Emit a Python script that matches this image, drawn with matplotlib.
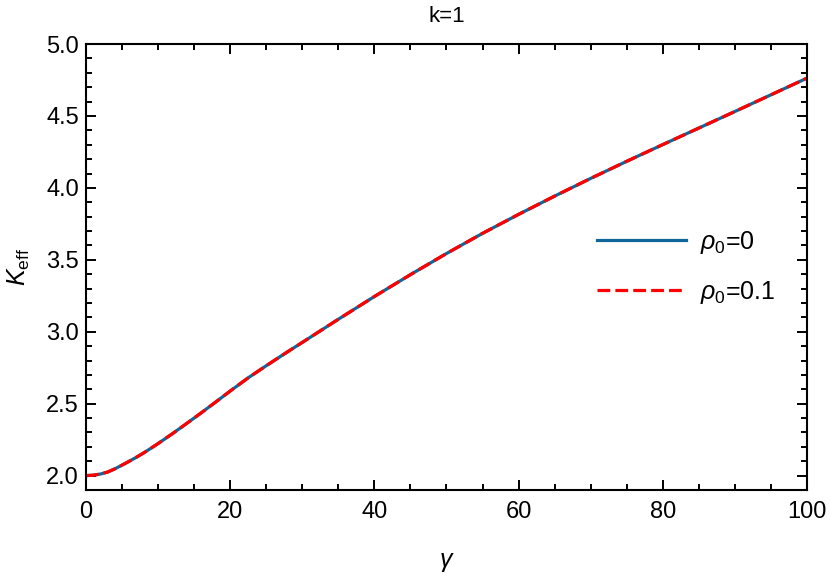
import numpy as np
import matplotlib
matplotlib.use("Agg")
import matplotlib.pyplot as plt
from matplotlib.ticker import MultipleLocator

plt.rcParams['font.family'] = ['Liberation Sans', 'DejaVu Sans']
plt.rcParams['mathtext.fontset'] = 'custom'
plt.rcParams['mathtext.rm'] = 'Liberation Sans'
plt.rcParams['mathtext.it'] = 'Liberation Sans:italic'

# values
gamma = [0, 1, 2, 3, 4, 5, 6, 7, 8, 9, 10, 12, 14, 16, 18, 20, 22.5, 25, 27.5,
         30, 35, 40, 45, 50, 55, 60, 65, 70, 75, 80, 85, 90, 95, 100]
keff_rho0 = [2.000, 2.003, 2.011, 2.025, 2.047, 2.073, 2.100, 2.128, 2.158,
             2.190, 2.223, 2.292, 2.364, 2.437, 2.512, 2.588, 2.680, 2.764,
             2.846, 2.926, 3.087, 3.245, 3.397, 3.544, 3.684, 3.816, 3.943,
             4.066, 4.185, 4.301, 4.416, 4.531, 4.647, 4.763]
keff_rho01 = [2.000, 2.003, 2.011, 2.025, 2.047, 2.073, 2.100, 2.128, 2.158,
              2.190, 2.223, 2.292, 2.364, 2.437, 2.512, 2.588, 2.680, 2.764,
              2.846, 2.926, 3.087, 3.245, 3.397, 3.544, 3.684, 3.816, 3.943,
              4.066, 4.185, 4.301, 4.416, 4.531, 4.647, 4.763]
labels = [r'$\rho_0$=0', r'$\rho_0$=0.1']

fig = plt.figure(figsize=(8.3, 5.74), dpi=100)
ax = fig.add_axes([0.1036, 0.1463, 0.8687, 0.777])

ax.plot(gamma, keff_rho0, color='#0f6699', lw=2.3, label=labels[0])
ax.plot(gamma, keff_rho01, color='#ff0000', lw=2.3, ls=(0, (4, 1.6)), label=labels[1])

ax.set_xlim(0, 100)
ax.set_ylim(1.9, 5.0)
ax.xaxis.set_major_locator(MultipleLocator(20))
ax.xaxis.set_minor_locator(MultipleLocator(5))
ax.yaxis.set_major_locator(MultipleLocator(0.5))
ax.yaxis.set_minor_locator(MultipleLocator(0.1))
ax.tick_params(which='both', direction='in', top=True, right=True, width=1.4, labelsize=17)
ax.tick_params(which='major', length=7)
ax.tick_params(which='minor', length=4)
ax.tick_params(axis='x', pad=8)
ax.tick_params(axis='y', pad=5)
for s in ax.spines.values():
    s.set_linewidth(1.5)

ax.set_xlabel(r'$\gamma$', fontsize=18, labelpad=19)
ax.set_ylabel(r'$K_{\rm eff}$', fontsize=18, labelpad=10)
ax.set_title('k=1', fontsize=16, pad=16)

ax.legend(frameon=False, fontsize=18, handlelength=3.56, handletextpad=0.55,
          labelspacing=0.92, loc='center left', bbox_to_anchor=(0.678, 0.50))

fig.savefig('out.png', dpi=100)
